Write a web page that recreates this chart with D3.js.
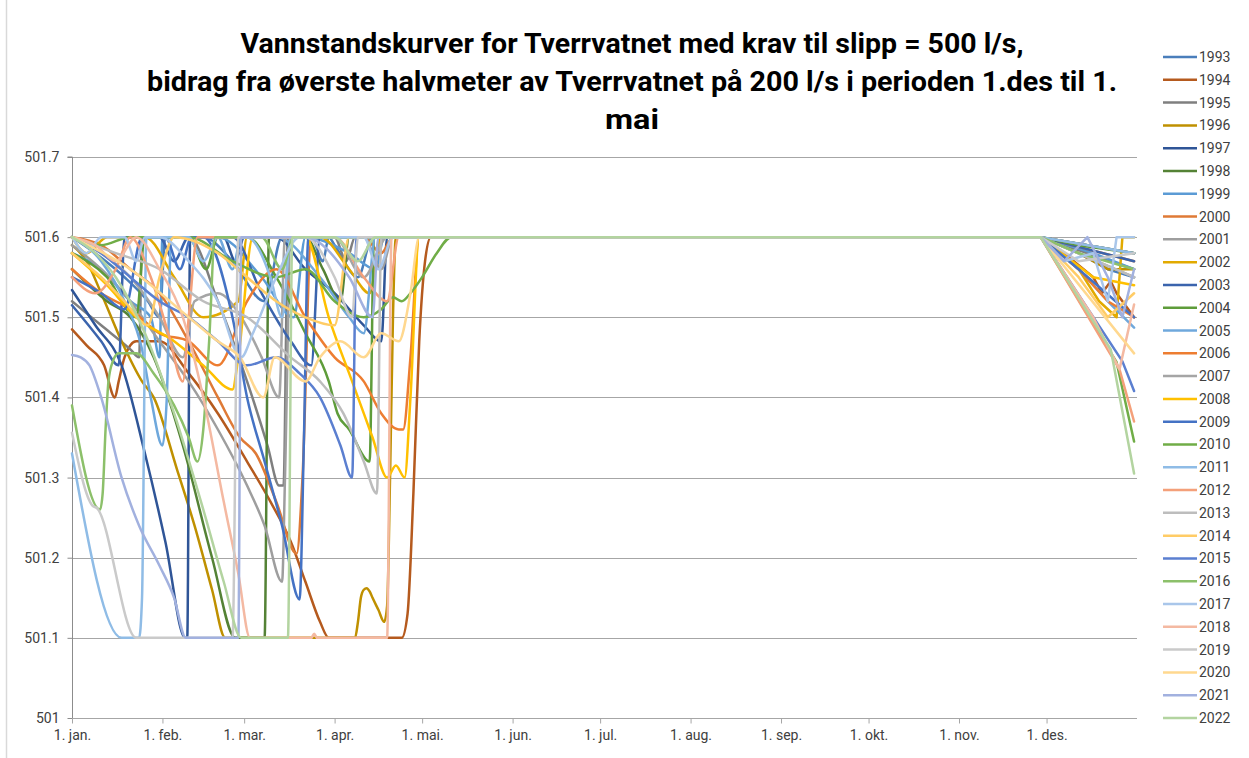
<!DOCTYPE html>
<html><head><meta charset="utf-8">
<script src="https://cdn.jsdelivr.net/npm/d3@7/dist/d3.min.js"></script>
<style>
body{margin:0;background:#fff;}
svg{display:block;}
text{font-family:"Liberation Sans Narrow","Arial Narrow","Roboto",sans-serif;}
</style></head><body>
<svg id="c" width="1249" height="758"></svg>
<script>
const titleLines = ["Vannstandskurver for Tverrvatnet med krav til slipp = 500 l/s,",
  "bidrag fra øverste halvmeter av Tverrvatnet på 200 l/s i perioden 1.des til 1.",
  "mai"];
const monthLabels = ["1. jan.","1. feb.","1. mar.","1. apr.","1. mai.","1. jun.","1. jul.","1. aug.","1. sep.","1. okt.","1. nov.","1. des."];
const monthDays = [0,31,59,90,120,151,181,212,243,273,304,334];
const yTicks = [501,501.1,501.2,501.3,501.4,501.5,501.6,501.7];
const yTickLabels = ["501","501.1","501.2","501.3","501.4","501.5","501.6","501.7"];
const years = [1993,1994,1995,1996,1997,1998,1999,2000,2001,2002,2003,2004,2005,2006,2007,2008,2009,2010,2011,2012,2013,2014,2015,2016,2017,2018,2019,2020,2021,2022];
const decStart = 332;

// [day of year, water level]
const y1993 = [[0,501.6],[8,501.58],[18,501.55],[26,501.52],[30,501.5],[32,501.6],[45,501.6],[55,501.57],[66,501.52],[72,501.6],[82,501.6],[86,501.57],[88,501.6],[90,501.59],[98,501.55],[103,501.6],[332,501.6],[345,501.58],[355,501.56],[364,501.55]];
const y1994 = [[0,501.485],[5,501.465],[11,501.44],[14.7,501.4],[16,501.42],[18,501.45],[22,501.47],[30,501.47],[40,501.43],[50,501.38],[60,501.32],[68,501.27],[75,501.22],[80,501.17],[85,501.12],[88,501.1],[113,501.1],[115,501.13],[117,501.28],[119,501.47],[121,501.57],[123,501.6],[332,501.6],[340,501.58],[350,501.55],[353,501.53],[356,501.545],[358,501.53],[364,501.5]];
const y1995 = [[0,501.52],[10,501.49],[20,501.46],[23,501.45],[24,501.6],[40,501.6],[50,501.52],[60,501.42],[67,501.34],[71,501.29],[72.5,501.29],[74,501.6],[90,501.6],[94,501.57],[97,501.6],[332,501.6],[364,501.56]];
const y1996 = [[0,501.59],[5,501.57],[10,501.53],[17,501.47],[24,501.42],[28,501.4],[36,501.31],[42,501.24],[48,501.16],[52.5,501.1],[97,501.1],[98,501.12],[99,501.15],[100,501.16],[101,501.162],[102,501.158],[103,501.15],[105,501.135],[107,501.12],[108,501.14],[109,501.3],[110,501.5],[111,501.6],[332,501.6],[345,501.58],[355,501.56],[364,501.56]];
const y1997 = [[0,501.534],[8,501.49],[17,501.44],[25,501.33],[32,501.22],[38.8,501.1],[39.5,501.1],[40.5,501.6],[52,501.6],[56,501.57],[59,501.6],[70,501.6],[80,501.56],[90,501.53],[100,501.49],[106,501.47],[108,501.6],[332,501.6],[364,501.58]];
const y1998 = [[0,501.56],[12,501.52],[20,501.5],[28,501.45],[38,501.34],[48,501.2],[56,501.1],[66,501.1],[67.5,501.6],[80,501.6],[86,501.56],[92,501.52],[95,501.6],[332,501.6],[364,501.58]];
const y1999 = [[0,501.58],[10,501.56],[20,501.52],[27,501.5],[30,501.45],[31,501.6],[50,501.6],[65,501.55],[76,501.5],[80,501.6],[95,501.58],[104,501.56],[107,501.6],[332,501.6],[350,501.58],[364,501.56]];
const y2000 = [[0,501.6],[10,501.59],[20,501.56],[30,501.53],[40,501.47],[50,501.4],[57.6,501.35],[63,501.33],[70,501.27],[77,501.205],[79,501.3],[82,501.6],[100,501.6],[106,501.58],[110,501.6],[332,501.6],[364,501.57]];
const y2001 = [[0,501.59],[10,501.56],[20,501.52],[30,501.47],[40,501.42],[50,501.36],[60,501.29],[66,501.24],[72,501.17],[73,501.3],[75,501.6],[100,501.6],[106,501.56],[110,501.6],[332,501.6],[364,501.55]];
const y2002 = [[0,501.6],[5,501.58],[12,501.6],[25,501.6],[35,501.55],[45,501.5],[57,501.52],[60,501.6],[85,501.6],[95,501.56],[102,501.53],[106,501.6],[332,501.6],[345,501.56],[352,501.52],[358,501.5],[360,501.6],[364,501.6]];
const y2003 = [[0,501.515],[10,501.47],[16,501.44],[18,501.6],[30,501.6],[35,501.57],[40,501.6],[55,501.6],[65,501.53],[75,501.47],[82,501.44],[85,501.6],[332,501.6],[364,501.57]];
const y2004 = [[0,501.58],[12,501.55],[22,501.5],[25,501.6],[40,501.6],[46,501.56],[50,501.6],[60,501.6],[70,501.55],[80,501.48],[88,501.42],[91,501.38],[95,501.36],[102,501.32],[103.5,501.6],[332,501.6],[345,501.59],[364,501.58]];
const y2005 = [[0,501.6],[10,501.57],[18,501.52],[24,501.46],[27,501.4],[31,501.34],[32.5,501.4],[34,501.6],[50,501.6],[55,501.56],[58,501.6],[70,501.6],[85,501.55],[95,501.5],[100,501.48],[104,501.6],[332,501.6],[345,501.56],[355,501.52],[364,501.487]];
const y2006 = [[0,501.56],[10,501.53],[20,501.51],[30,501.48],[40,501.47],[50,501.44],[60,501.52],[70,501.56],[80,501.5],[90,501.45],[100,501.42],[106,501.38],[112,501.36],[113.5,501.36],[116,501.45],[119,501.6],[332,501.6],[345,501.56],[355,501.52],[364,501.5]];
const y2007 = [[0,501.6],[10,501.58],[20,501.55],[30,501.5],[38,501.45],[42,501.52],[50,501.53],[58,501.5],[65,501.45],[71,501.4],[73,501.6],[90,501.6],[100,501.55],[108,501.6],[332,501.6],[364,501.58]];
const y2008 = [[0,501.58],[12,501.54],[22,501.5],[35,501.47],[45,501.44],[55,501.41],[57,501.45],[62,501.6],[80,501.6],[88,501.5],[96,501.42],[103,501.35],[108,501.3],[111,501.315],[114,501.3],[116,501.4],[119,501.6],[332,501.6],[350,501.55],[364,501.54]];
const y2009 = [[0,501.55],[10,501.53],[18,501.51],[24,501.6],[32,501.6],[37,501.56],[41,501.6],[45,501.6],[55,501.5],[60,501.4],[66,501.32],[72,501.24],[78,501.148],[79.5,501.35],[81,501.6],[332,501.6],[345,501.56],[364,501.5]];
const y2010 = [[0,501.6],[10,501.59],[20,501.6],[40,501.6],[55,501.57],[70,501.55],[80,501.56],[90,501.52],[100,501.5],[106,501.51],[110,501.525],[113,501.52],[116,501.53],[120,501.55],[125,501.58],[130,501.6],[332,501.6],[358,501.444],[364,501.345]];
const y2011 = [[0,501.33],[17,501.1],[23,501.1],[24,501.15],[25.5,501.6],[40,501.6],[45,501.57],[50,501.6],[60,501.6],[68,501.55],[72,501.5],[75,501.6],[332,501.6],[364,501.58]];
const y2012 = [[0,501.55],[8,501.53],[15,501.56],[20,501.6],[27,501.55],[33,501.48],[38,501.42],[40,501.5],[43,501.6],[90,501.6],[100,501.55],[108,501.52],[112,501.6],[332,501.6],[359,501.435],[364,501.37]];
const y2013 = [[0,501.6],[15,501.58],[30,501.56],[45,501.52],[60,501.5],[75,501.45],[85,501.42],[93,501.38],[100,501.32],[104.5,501.28],[106,501.6],[332,501.6],[364,501.55]];
const y2014 = [[0,501.58],[10,501.55],[18,501.52],[26,501.49],[30,501.55],[35,501.6],[50,501.58],[60,501.55],[70,501.52],[80,501.5],[90,501.49],[95,501.6],[332,501.6],[345,501.55],[355,501.5],[364,501.53]];
const y2015 = [[0,501.6],[10,501.58],[20,501.55],[30,501.52],[40,501.5],[50,501.47],[60,501.44],[70,501.45],[78,501.43],[85,501.4],[92,501.34],[96,501.3],[97.5,501.6],[332,501.6],[360,501.445],[364,501.408]];
const y2016 = [[0,501.39],[9.6,501.26],[10.5,501.28],[11.5,501.36],[12.5,501.42],[14,501.445],[16,501.455],[22,501.455],[28,501.43],[35,501.39],[40,501.35],[43,501.32],[45,501.36],[47,501.47],[49,501.6],[65,501.6],[72,501.56],[76,501.6],[332,501.6],[345,501.58],[364,501.56]];
const y2017 = [[0,501.6],[5,501.58],[10,501.6],[18,501.6],[22,501.57],[25,501.6],[30,501.6],[40,501.57],[50,501.52],[58,501.45],[62,501.48],[70,501.55],[78,501.6],[100,501.6],[105,501.56],[110,501.6],[332,501.6],[340,501.57],[350,501.58],[355,501.52],[358,501.6],[364,501.6]];
const y2018 = [[0,501.6],[8,501.59],[15,501.57],[22,501.6],[30,501.56],[38,501.5],[45,501.4],[52,501.27],[57,501.18],[61,501.1],[82,501.1],[83,501.105],[84,501.1],[108,501.1],[109.5,501.6],[332,501.6],[350,501.5],[359,501.435],[364,501.516]];
const y2019 = [[0,501.356],[7,501.265],[8.5,501.262],[22,501.1],[55,501.1],[57,501.6],[80,501.6],[90,501.55],[96,501.5],[98,501.6],[332,501.6],[345,501.57],[364,501.58]];
const y2020 = [[0,501.6],[20,501.56],[40,501.5],[50,501.47],[57.6,501.45],[65.5,501.4],[69.5,501.45],[80,501.42],[85,501.45],[92,501.47],[100,501.45],[106,501.48],[112,501.47],[116,501.53],[119,501.6],[332,501.6],[364,501.455]];
const y2021 = [[0,501.453],[3,501.45],[6,501.44],[10,501.4],[17,501.3],[23,501.24],[30,501.19],[35,501.15],[39,501.1],[57,501.1],[58,501.6],[80,501.6],[95,501.55],[103,501.5],[105,501.6],[332,501.6],[340,501.57],[348,501.6],[355,501.55],[360,501.5],[364,501.56]];
const y2022 = [[0,501.6],[8,501.58],[15,501.55],[25,501.48],[35,501.38],[45,501.26],[52,501.17],[58,501.1],[74,501.1],[75.5,501.6],[90,501.6],[98,501.57],[104,501.6],[332,501.6],[356,501.46],[364,501.305]];

const seriesValues = [y1993,y1994,y1995,y1996,y1997,y1998,y1999,y2000,y2001,y2002,y2003,y2004,y2005,y2006,y2007,y2008,y2009,y2010,y2011,y2012,y2013,y2014,y2015,y2016,y2017,y2018,y2019,y2020,y2021,y2022];
const colors = ["#4A7EBB","#B55A1E","#7F7F7F","#BF9000","#2F5597","#548235","#5B9BD5","#DF7A36","#9E9E9E","#E2AA00","#3B64AD","#5E9C3A","#6FA8DC","#ED7D31","#A5A5A5","#FFC000","#4472C4","#70AD47","#8FBCE6","#F4A07A","#BDBDBD","#FFCC66","#5B7FD0","#8CC06A","#A9C6EA","#F4B9A2","#CACACA","#FFD88F","#A2B1DF","#B3D4A0"];

const svg = d3.select("#c");
const L=72,R=1137,T=157,B=718;
const x = d3.scaleLinear().domain([0,365]).range([L,R]);
const y = d3.scaleLinear().domain([501,501.7]).range([B,T]);

// border
svg.append("rect").attr("x",6.5).attr("y",-2).attr("width",1300).attr("height",770).attr("fill","none").attr("stroke","#d9d9d9").attr("stroke-width",1.5);

// gridlines
svg.append("g").selectAll("line").data(yTicks.slice(1)).join("line")
  .attr("x1",L).attr("x2",R).attr("y1",d=>Math.round(y(d))+0.5).attr("y2",d=>Math.round(y(d))+0.5)
  .attr("stroke","#a6a6a6").attr("stroke-width",1);

// y axis
const yAxis = d3.axisLeft(y).tickValues(yTicks).tickFormat((d,i)=>yTickLabels[i]).tickSize(5).tickPadding(8);
const gy = svg.append("g").attr("transform",`translate(${L+0.5},0)`).call(yAxis);
gy.select(".domain").attr("stroke","#8c8c8c").attr("d",`M-5,${T}H0V${B}`);
gy.selectAll(".tick line").attr("stroke","#8c8c8c");
gy.selectAll("text").attr("font-size",14).attr("fill","#404040");

// x axis
const xAxis = d3.axisBottom(x).tickValues(monthDays).tickFormat((d,i)=>monthLabels[i]).tickSize(5).tickPadding(7);
const gx = svg.append("g").attr("transform",`translate(0,${B+0.5})`).call(xAxis);
gx.select(".domain").attr("stroke","#a6a6a6").attr("d",`M${L},0H${R}`);
gx.selectAll(".tick line").attr("stroke","#a6a6a6");
gx.selectAll("text").attr("font-size",14).attr("fill","#404040");

// lines: smooth spring part, straight December part
const smooth = d3.line().x(d=>x(d[0])).y(d=>y(d[1])).curve(d3.curveMonotoneX);
const straight = d3.line().x(d=>x(d[0])).y(d=>y(d[1])).curve(d3.curveLinear);
const gl = svg.append("g");
seriesValues.forEach((s,i)=>{
  const a = s.filter(p=>p[0]<=decStart), b = s.filter(p=>p[0]>=decStart);
  gl.append("path").attr("d",smooth(a)+straight(b).replace(/^M/,"L"))
    .attr("fill","none").attr("stroke",colors[i])
    .attr("stroke-width",2.5).attr("stroke-linejoin","round").attr("stroke-linecap","round");
});

// title
const tl = [{t:titleLines[0],cy:53,w:783},{t:titleLines[1],cy:91,w:970},{t:titleLines[2],cy:129,w:54}];
svg.append("g").selectAll("text").data(tl).join("text")
  .attr("x",632).attr("y",d=>d.cy).attr("text-anchor","middle")
  .attr("font-size",27).attr("font-weight","bold").attr("fill","#000")
  .attr("textLength",d=>d.w).attr("lengthAdjust","spacingAndGlyphs").text(d=>d.t);

// legend
const lg = svg.append("g");
const ly = d3.scaleLinear().domain([0,years.length-1]).range([57,718]);
const items = lg.selectAll("g").data(years).join("g").attr("transform",(d,i)=>`translate(1163,${ly(i)})`);
items.append("line").attr("x1",0).attr("x2",34).attr("y1",0).attr("y2",0).attr("stroke",(d,i)=>colors[i]).attr("stroke-width",2.5);
items.append("text").attr("x",36).attr("y",5).attr("font-size",14).attr("fill","#404040").text(d=>d);
</script></body></html>
